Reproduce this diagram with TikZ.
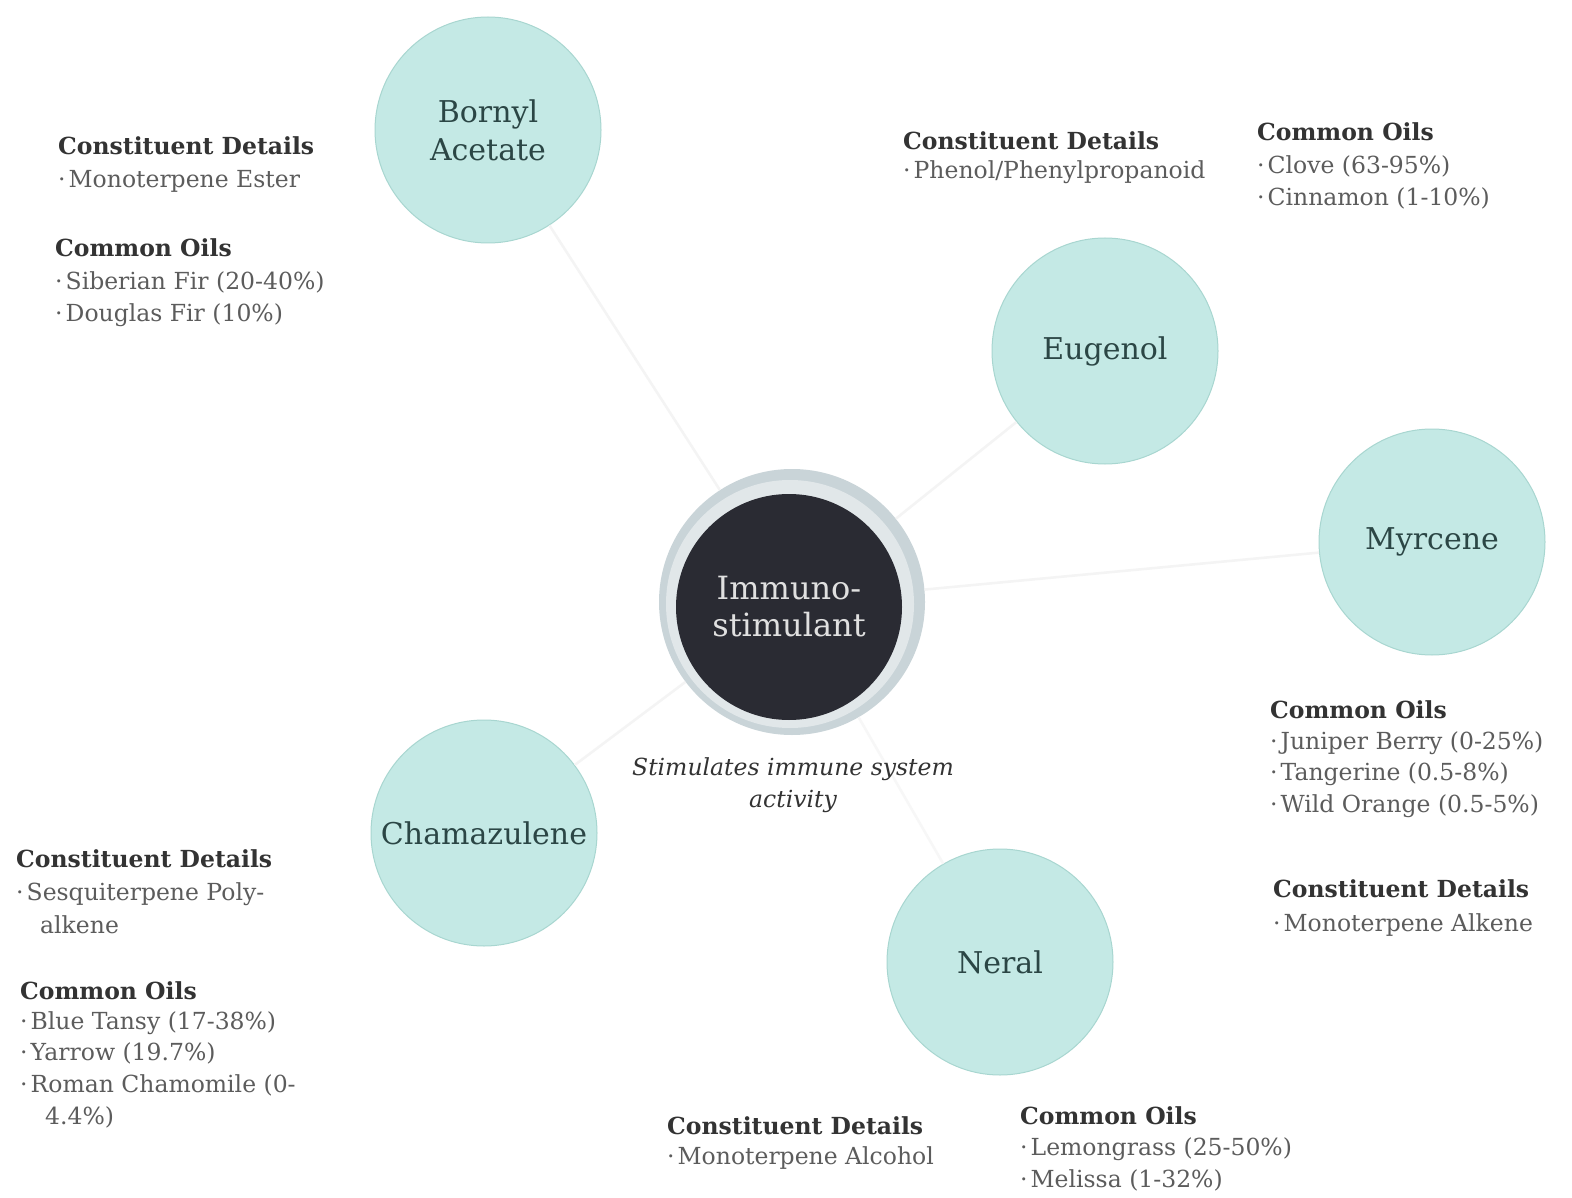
\documentclass[tikz,border=0pt]{standalone}
\usepackage{fontspec}
\setmainfont{DejaVu Serif}
\definecolor{tealfill}{HTML}{C4E9E5}
\definecolor{tealdraw}{HTML}{A8D6D0}
\definecolor{tealtext}{HTML}{2B4645}
\definecolor{txt}{HTML}{333333}
\definecolor{dark}{HTML}{2A2B33}
\definecolor{silver}{HTML}{C9D4D8}
\newcommand{\bul}{·\hspace{3pt}}
\begin{document}
\begin{tikzpicture}[x=1pt,y=-1pt,
  comp/.style={circle, minimum size=226pt, inner sep=0pt, fill=tealfill, draw=tealdraw, line width=1pt,
    font=\fontsize{30}{38}\selectfont, text=tealtext, align=center},
  hdr/.style={anchor=base west, inner sep=0pt, font=\fontsize{23.5}{32}\selectfont\bfseries, text=txt},
  item/.style={anchor=base west, inner sep=0pt, font=\fontsize{23.5}{32}\selectfont, text=txt!80},
  link/.style={draw=gray!9, line width=2.5pt}]
\useasboundingbox (0,0) rectangle (1572,1198);
\fill[white] (0,0) rectangle (1572,1198);

% centre
\node[circle, minimum size=266pt, inner sep=0pt, fill=silver] (imm) at (792,602) {};
\fill[white, opacity=0.45] (790,604) circle (124pt);
\node[circle, minimum size=226pt, inner sep=0pt, fill=dark, text=white!88!black, align=center,
  font=\fontsize{32}{37}\selectfont] (core) at (789,607) {Immuno-\\stimulant};

% components
\node[comp] (bornyl) at (488,130) {Bornyl\\Acetate};
\node[comp] (eugenol) at (1105,351) {Eugenol};
\node[comp] (myrcene) at (1432,542) {Myrcene};
\node[comp] (chama) at (484,833) {Chamazulene};
\node[comp] (neral) at (1000,962) {Neral};

% connectors
\draw[link] (imm) -- (bornyl);
\draw[link] (imm) -- (eugenol);
\draw[link] (imm) -- (myrcene);
\draw[link] (imm) -- (chama);
\draw[link, draw=gray!6] (imm) -- (neral);

\node[align=center, inner sep=0pt, font=\fontsize{23.5}{32}\selectfont\itshape, text=txt] (cap) at (793,785)
  {Stimulates immune system\\activity};

% Bornyl Acetate
\node[hdr] (b1) at (58,155) {Constituent Details};
\node[item] (b2) at (58,188) {\bul Monoterpene Ester};
\node[hdr] (b3) at (55,257) {Common Oils};
\node[item] (b4) at (55,290) {\bul Siberian Fir (20-40\%)};
\node[item] (b5) at (55,322) {\bul Douglas Fir (10\%)};

% Eugenol
\node[hdr] (e1) at (903,150) {Constituent Details};
\node[item] (e2) at (903,179) {\bul Phenol/Phenylpropanoid};
\node[hdr] (e3) at (1257,141) {Common Oils};
\node[item] (e4) at (1257,174) {\bul Clove (63-95\%)};
\node[item] (e5) at (1257,206) {\bul Cinnamon (1-10\%)};

% Myrcene
\node[hdr] (m1) at (1270,718) {Common Oils};
\node[item] (m2) at (1270,749) {\bul Juniper Berry (0-25\%)};
\node[item] (m3) at (1270,780) {\bul Tangerine (0.5-8\%)};
\node[item] (m4) at (1270,812) {\bul Wild Orange (0.5-5\%)};
\node[hdr] (m5) at (1273,897) {Constituent Details};
\node[item] (m6) at (1273,931) {\bul Monoterpene Alkene};

% Chamazulene
\node[hdr] (c1) at (16,867) {Constituent Details};
\node[item] (c2) at (16,900) {\bul Sesquiterpene Poly-};
\node[item] (c3) at (40,933) {alkene};
\node[hdr] (c4) at (20,999) {Common Oils};
\node[item] (c5) at (20,1029) {\bul Blue Tansy (17-38\%)};
\node[item] (c6) at (20,1060) {\bul Yarrow (19.7\%)};
\node[item] (c7) at (20,1092) {\bul Roman Chamomile (0-};
\node[item] (c8) at (45,1124) {4.4\%)};

% Neral
\node[hdr] (n1) at (667,1134) {Constituent Details};
\node[item] (n2) at (667,1164) {\bul Monoterpene Alcohol};
\node[hdr] (n3) at (1020,1124) {Common Oils};
\node[item] (n4) at (1020,1155) {\bul Lemongrass (25-50\%)};
\node[item] (n5) at (1020,1187) {\bul Melissa (1-32\%)};
\end{tikzpicture}
\end{document}
